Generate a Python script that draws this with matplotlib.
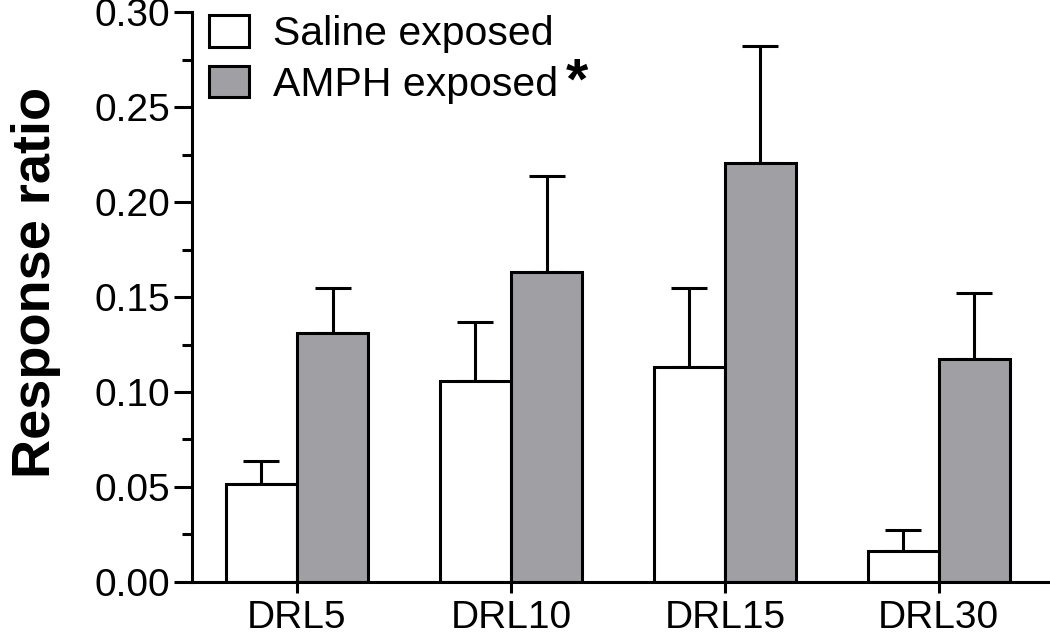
import numpy as np
import matplotlib
matplotlib.use('Agg')
import matplotlib.pyplot as plt
from matplotlib.ticker import MultipleLocator, FormatStrFormatter

plt.rcParams['font.family'] = ['Liberation Sans', 'DejaVu Sans']

groups = ['DRL5', 'DRL10', 'DRL15', 'DRL30']
saline = [0.0515, 0.106, 0.1133, 0.0165]
saline_err = [0.0123, 0.031, 0.0417, 0.0109]
amph = [0.131, 0.1634, 0.2203, 0.1176]
amph_err = [0.0235, 0.0501, 0.0617, 0.0347]
labels = ['Saline exposed', 'AMPH exposed']

x = np.arange(len(groups))
w = 0.333
lw = 2.2

fig = plt.figure(figsize=(10.5, 6.35), dpi=100)
ax = fig.add_axes([0.183, 0.0835, 0.815, 0.8975])

ax.bar(x - w / 2, saline, w, color='white', edgecolor='black', linewidth=lw,
       label=labels[0], zorder=2)
ax.bar(x + w / 2, amph, w, color='#a09fa4', edgecolor='black', linewidth=lw,
       label=labels[1], zorder=2)
ax.errorbar(x - w / 2, saline, yerr=[np.zeros(4), saline_err], fmt='none',
            ecolor='black', elinewidth=lw, capsize=13.3, capthick=lw, zorder=1)
ax.errorbar(x + w / 2, amph, yerr=[np.zeros(4), amph_err], fmt='none',
            ecolor='black', elinewidth=lw, capsize=13.3, capthick=lw, zorder=1)

ax.set_xlim(-0.49, 3.51)
ax.set_ylim(0, 0.30)
ax.set_xticks(x)
ax.set_xticklabels(groups)
ax.yaxis.set_major_locator(MultipleLocator(0.05))
ax.yaxis.set_minor_locator(MultipleLocator(0.025))
ax.yaxis.set_major_formatter(FormatStrFormatter('%.2f'))

for s in ['top', 'right']:
    ax.spines[s].set_visible(False)
for s in ['left', 'bottom']:
    ax.spines[s].set_linewidth(lw)

ax.tick_params(axis='y', which='major', length=13, width=lw, labelsize=28, pad=3)
ax.tick_params(axis='y', which='minor', length=7, width=lw)
ax.tick_params(axis='x', which='major', length=8, width=lw, labelsize=28, pad=5)

ax.set_ylabel('Response ratio', fontsize=39, fontweight='bold', labelpad=24, y=0.526)

leg = ax.legend(loc='upper left', bbox_to_anchor=(0.0, 1.023), frameon=False,
                fontsize=29.5, handlelength=0.98, handleheight=0.8,
                handletextpad=0.6, labelspacing=0.3, borderaxespad=0.0)
for p in leg.get_patches():
    p.set_linewidth(lw)

# asterisk after the AMPH legend entry
fig.canvas.draw()
bb = leg.get_texts()[1].get_window_extent()
inv = fig.transFigure.inverted()
x1, y1 = inv.transform((bb.x1 + 7, bb.y1 + 9))
fig.text(x1, y1, '*', fontsize=41, fontweight='bold', ha='left', va='top')

fig.savefig('out.png', dpi=100)
